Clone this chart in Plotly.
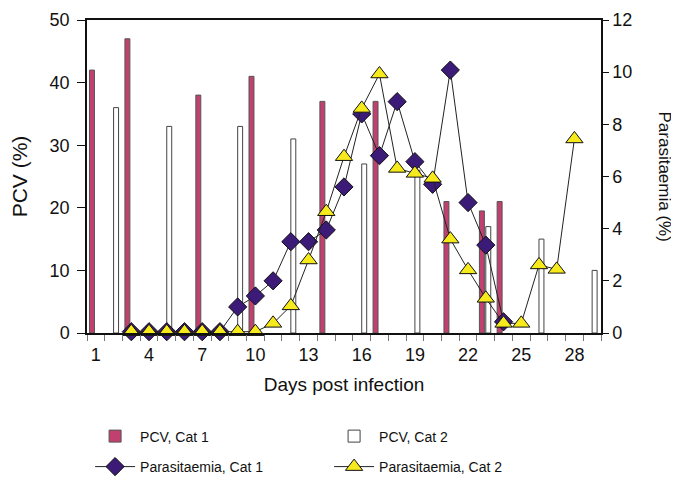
import plotly.graph_objects as go

days = list(range(1, 30))

pcv_cat1_days = [1, 3, 7, 10, 14, 17, 21, 23, 24]
pcv_cat1 = [42, 47, 38, 41, 37, 37, 21, 19.5, 21]

pcv_cat2_days = [2, 5, 9, 12, 16, 19, 23, 26, 29]
pcv_cat2 = [36, 33, 33, 31, 27, 26, 17, 15, 10]

para_cat1_days = list(range(3, 25))
para_cat1 = [0.05, 0.05, 0.05, 0.05, 0.05, 0.05, 1.0, 1.42, 2.0, 3.5, 3.5, 3.95,
             5.6, 8.4, 6.8, 8.87, 6.57, 5.7, 10.08, 5.0, 3.37, 0.43]

para_cat2_days = list(range(3, 29))
para_cat2 = [0.05, 0.05, 0.05, 0.05, 0.05, 0.05, 0.05, 0.05, 0.37, 1.04, 2.8, 4.65,
             6.76, 8.61, 9.93, 6.31, 6.12, 5.93, 3.6, 2.42, 1.33, 0.37, 0.37, 2.61,
             2.44, 7.44]

x_tick_vals = [1, 4, 7, 10, 13, 16, 19, 22, 25, 28]
x_tick_text = [str(v) for v in x_tick_vals]

FONT = "Liberation Sans, Arial, sans-serif"

fig = go.Figure()

fig.add_trace(go.Bar(
    x=pcv_cat1_days, y=pcv_cat1, name="PCV, Cat 1",
    width=0.28, offset=-0.36,
    marker=dict(color="#c1406f", line=dict(color="#555555", width=1)),
    yaxis="y", legend="legend",
))
fig.add_trace(go.Bar(
    x=pcv_cat2_days, y=pcv_cat2, name="PCV, Cat 2",
    width=0.28, offset=0.0,
    marker=dict(color="#ffffff", line=dict(color="#444444", width=1)),
    yaxis="y", legend="legend",
))
fig.add_trace(go.Scatter(
    x=para_cat1_days, y=para_cat1, name="Parasitaemia, Cat 1",
    mode="lines+markers", yaxis="y2", cliponaxis=False,
    line=dict(color="#222222", width=1),
    marker=dict(symbol="diamond", size=14, color="#3b1a78",
                line=dict(color="#111111", width=1)),
    legend="legend2",
))
fig.add_trace(go.Scatter(
    x=para_cat2_days, y=para_cat2, name="Parasitaemia, Cat 2",
    mode="lines+markers", yaxis="y2", cliponaxis=False,
    line=dict(color="#222222", width=1),
    marker=dict(symbol="triangle-up", size=15, color="#f7ea1c",
                line=dict(color="#111111", width=1)),
    legend="legend2",
))

legend_common = dict(
    orientation="h", x=0.006, xanchor="left", yanchor="top",
    entrywidth=184, entrywidthmode="pixels",
    font=dict(family=FONT, size=14, color="#111111"),
    traceorder="normal", itemwidth=40, bgcolor="rgba(0,0,0,0)",
)

fig.update_layout(
    width=671, height=474,
    margin=dict(l=79, r=78, t=12, b=149, autoexpand=False),
    paper_bgcolor="white", plot_bgcolor="white",
    font=dict(family=FONT, size=16, color="#111111"),
    barmode="overlay",
    showlegend=True,
    legend=dict(legend_common, y=-0.2796),
    legend2=dict(legend_common, y=-0.377),
    xaxis=dict(
        range=[0.5, 29.5], showgrid=False, zeroline=False, automargin=False,
        tickmode="array", tickvals=x_tick_vals, ticktext=x_tick_text,
        ticks="outside", ticklen=5, tickcolor="rgba(0,0,0,0)",
        showline=True, linecolor="#111111", linewidth=1.5, mirror=True,
        minor=dict(tickmode="array", tickvals=[d - 0.5 for d in days] + [29.5],
                   ticks="outside", ticklen=6, tickcolor="#777777", tickwidth=1),
        title=dict(text="Days post infection", standoff=13,
                   font=dict(family=FONT, size=19)),
        tickfont=dict(family=FONT, size=18),
    ),
    yaxis=dict(
        range=[0, 50], tickvals=[0, 10, 20, 30, 40, 50], showgrid=False,
        zeroline=False, automargin=False, ticks="outside", ticklen=8,
        tickcolor="#111111", ticklabelstandoff=4,
        showline=True, linecolor="#111111", linewidth=1.5,
        title=dict(text="PCV (%)", standoff=22, font=dict(family=FONT, size=21)),
        tickfont=dict(family=FONT, size=18),
    ),
    yaxis2=dict(
        range=[0, 12], tickvals=[0, 2, 4, 6, 8, 10, 12], overlaying="y",
        side="right", showgrid=False, zeroline=False, automargin=False,
        ticks="outside", ticklen=6, tickcolor="#111111", showline=True,
        linecolor="#111111", linewidth=1.5, tickfont=dict(family=FONT, size=18),
    ),
    annotations=[dict(
        text="Parasitaemia (%)", textangle=90, xref="paper", yref="paper",
        x=1.0, xanchor="center", xshift=63, y=0.5, yanchor="middle",
        showarrow=False,
        font=dict(family=FONT, size=17, color="#111111"),
    )],
)

fig.write_html("out.html")
